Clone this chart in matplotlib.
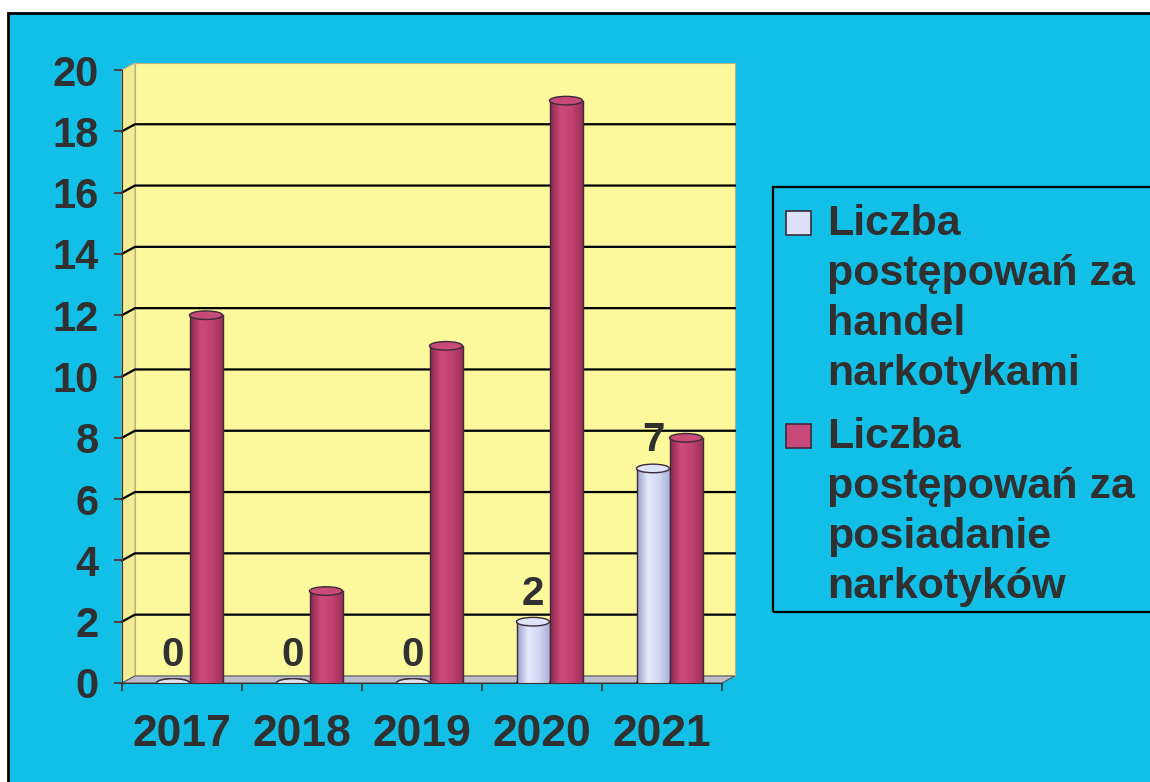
import matplotlib.pyplot as plt
import numpy as np
from matplotlib.patches import Rectangle, Ellipse, Polygon
from matplotlib.colors import LinearSegmentedColormap

plt.rcParams['font.family'] = ['Liberation Sans', 'DejaVu Sans']
plt.rcParams['font.weight'] = 'bold'

# dane
years = ['2017', '2018', '2019', '2020', '2021']
handel = [0, 0, 0, 2, 7]
posiadanie = [12, 3, 11, 19, 8]
yticks = list(range(0, 21, 2))
labels = ['Liczba\npostępowań za\nhandel\nnarkotykami',
          'Liczba\npostępowań za\nposiadanie\nnarkotyków']

BLUE = '#12bfe6'
YELLOW = '#fcf89c'
PINK = '#c4426f'
LIGHT = '#cbd2f0'
TXT = '#303030'
EDGE = '#3a2a3a'

W, H = 1150, 782
fig = plt.figure(figsize=(W / 100, H / 100), dpi=100)
fig.patch.set_facecolor('white')


def px(x, y):
    # piksele od lewego gornego rogu -> wspolrzedne figury
    return x / W, 1 - y / H


# tlo z ramka
fig.add_artist(Rectangle((8 / W, -0.05), 1.1, (H - 13) / H + 0.05, transform=fig.transFigure,
                         facecolor=BLUE, edgecolor='black', lw=2, zorder=-10))

ax = fig.add_axes([122 / W, (H - 683) / H, 600 / W, 613 / H])
ax.set_facecolor('none')
ax.set_xlim(-0.5, 4.5)
ax.set_ylim(0, 20)

# glebokosc 3D w jednostkach danych
DX, DY = 0.108, 0.23

# sciana tylna, bok, podloga
ax.add_patch(Rectangle((-0.5 + DX, DY), 5, 20, facecolor=YELLOW, edgecolor='#b8b48a', lw=0.8,
                       zorder=0, clip_on=False))
ax.add_patch(Polygon([(-0.5, 0), (-0.5, 20), (-0.5 + DX, 20 + DY), (-0.5 + DX, DY)],
                     facecolor='#f2ec92', edgecolor='#b8b48a', lw=0.8, zorder=0.2, clip_on=False))
ax.add_patch(Polygon([(-0.5, 0), (4.5, 0), (4.5 + DX, DY), (-0.5 + DX, DY)],
                     facecolor='#bdbcc8', edgecolor='#555555', lw=0.8, zorder=1, clip_on=False))
for y in yticks[1:-1]:
    ax.plot([-0.5, -0.5 + DX, 4.5 + DX], [y, y + DY, y + DY], color='black', lw=1.6,
            zorder=0.5, clip_on=False)

x = np.arange(len(years))
bw = 0.275
EH = 0.28
grad = np.linspace(0, 1, 64).reshape(1, -1)
cm_light = LinearSegmentedColormap.from_list('l', ['#9aa3cc', '#e4e8fa', '#d2d8f2', '#a9b1d8'])
cm_pink = LinearSegmentedColormap.from_list('p', ['#8e2a50', '#cc4a78', '#c4426f', '#9a3058'])


def cylinder(xc, h, cmap, top, z):
    x0 = xc - bw / 2
    ax.add_patch(Ellipse((xc, 0), bw, EH, facecolor=cmap(0.6), edgecolor=EDGE, lw=1, zorder=z))
    if h > 0:
        clip = Rectangle((x0, 0), bw, h, transform=ax.transData)
        im = ax.imshow(grad, extent=[x0, x0 + bw, 0, h], cmap=cmap, aspect='auto', zorder=z + 0.1,
                       interpolation='bilinear')
        im.set_clip_path(clip)
        ax.plot([x0, x0], [0, h], color=EDGE, lw=1, zorder=z + 0.2)
        ax.plot([x0 + bw, x0 + bw], [0, h], color=EDGE, lw=1, zorder=z + 0.2)
    ax.add_patch(Ellipse((xc, h), bw, EH, facecolor=top, edgecolor=EDGE, lw=1, zorder=z + 0.3))


for i in range(len(years)):
    cylinder(x[i] - 0.075, handel[i], cm_light, '#dfe4f8', 2)
    cylinder(x[i] + 0.2, posiadanie[i], cm_pink, '#c84a76', 3)
    ax.text(x[i] - 0.075, handel[i] + 0.3, str(handel[i]), ha='center', va='bottom',
            fontsize=29, color=TXT, fontweight='bold', zorder=6)

ax.set_xlim(-0.5, 4.5)
ax.set_ylim(0, 20)

# osie
for s in ['top', 'right']:
    ax.spines[s].set_visible(False)
ax.spines['left'].set_color('#333333')
ax.spines['bottom'].set_color('#333333')
ax.spines['left'].set_zorder(1.5)
ax.set_yticks(yticks)
ax.set_yticklabels([str(v) for v in yticks], fontsize=30, color=TXT, fontweight='bold')
ax.tick_params(axis='y', length=6, width=1.2, color='#5a2a2a', pad=11)
ax.set_xticks(x)
ax.set_xticklabels(years, fontsize=32, color=TXT, fontweight='bold')
ax.set_xticks(np.arange(-0.5, 5, 1), minor=True)
ax.tick_params(axis='x', which='major', length=0, pad=22)
ax.tick_params(axis='x', which='minor', length=6, width=1.2, color='#333333')

# legenda
lx, ly = px(773, 187)
lx2, ly2 = px(1165, 612)
fig.add_artist(Rectangle((lx, ly2), lx2 - lx, ly - ly2, transform=fig.transFigure,
                         facecolor='none', edgecolor='black', lw=1.6, zorder=5))
for k, (lab, col) in enumerate(zip(labels, ['#dde1f6', '#c84878'])):
    base = [235, 448][k]
    mx, my = px(786, base - 24)
    mx2, my2 = px(811, base)
    fig.add_artist(Rectangle((mx, my2), mx2 - mx, my - my2, transform=fig.transFigure,
                             facecolor=col, edgecolor=EDGE, lw=1.2, zorder=6))
    for j, line in enumerate(lab.split('\n')):
        tx, ty = px(827, base + 50 * j)
        fig.text(tx, ty, line, ha='left', va='baseline', fontsize=31, color=TXT,
                 fontweight='bold')

plt.savefig('out.png', dpi=100)
